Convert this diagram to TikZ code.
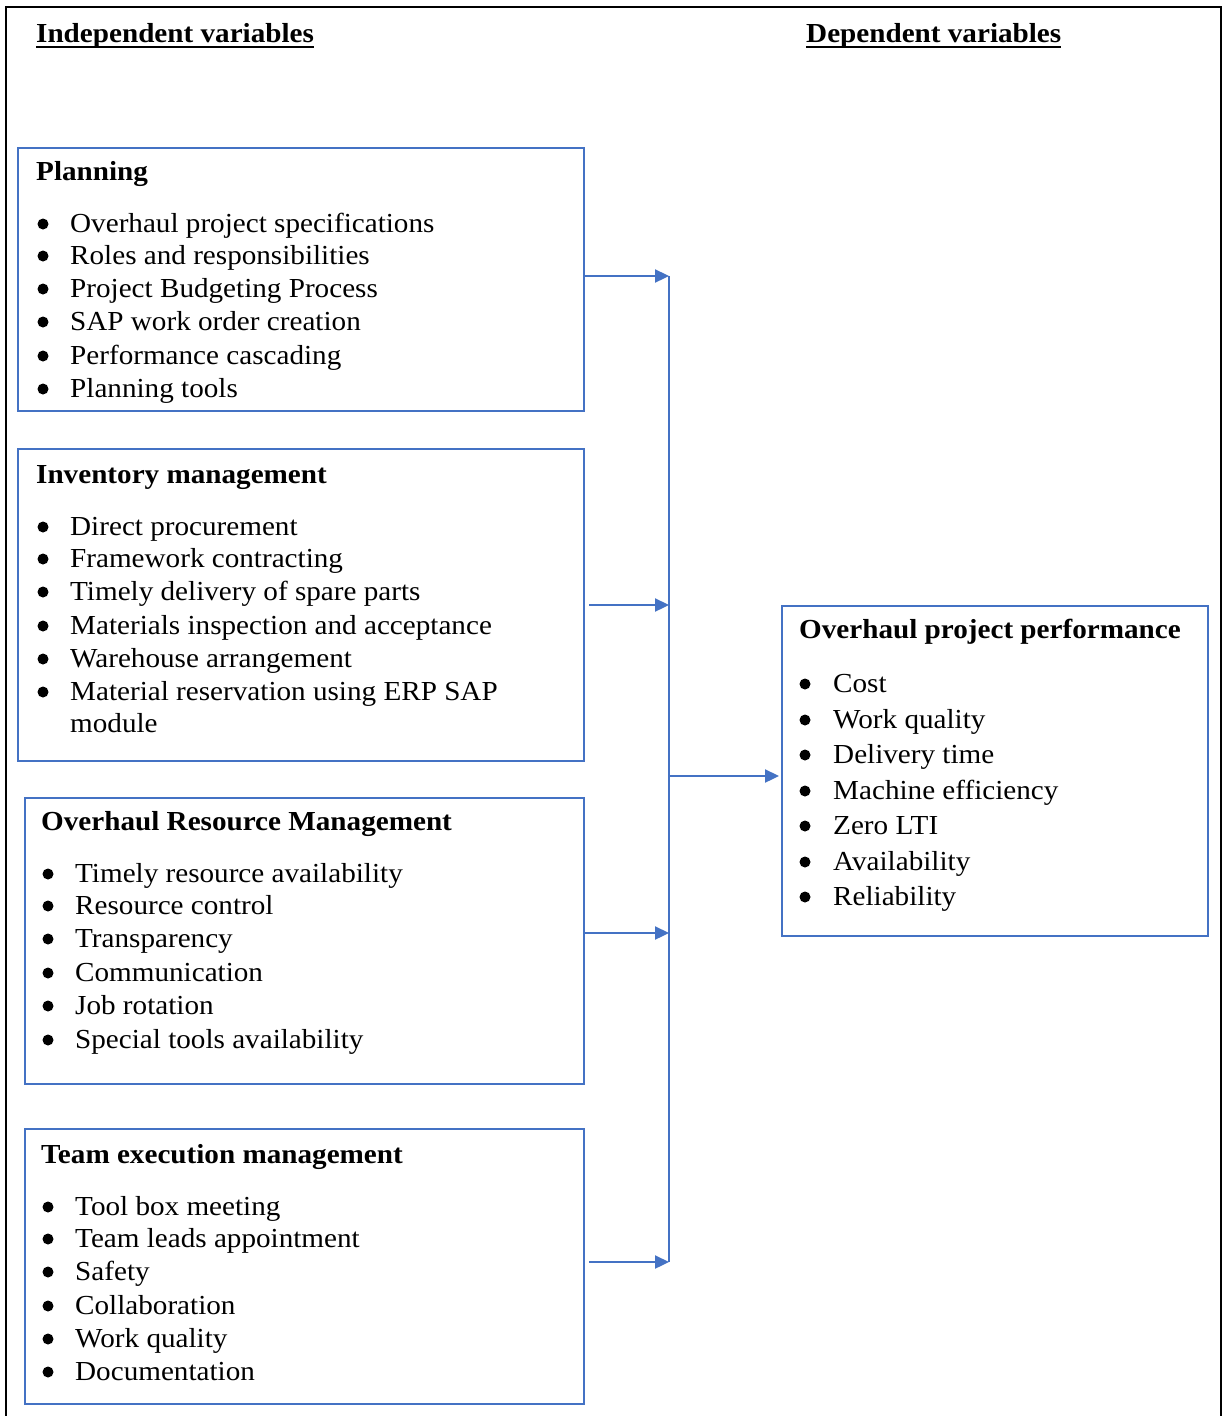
\documentclass[tikz,border=0pt]{standalone}
\usepackage{fontspec}
\setmainfont{Liberation Serif}[FakeStretch=1.06]
\usetikzlibrary{arrows.meta,calc}
\definecolor{bblue}{RGB}{68,114,196}
\begin{document}
\begin{tikzpicture}[x=1pt,y=-1pt,
  boxst/.style={draw=bblue, line width=2.3pt, anchor=north west, inner sep=0pt},
  tx/.style={anchor=base west, inner sep=0pt, font=\fontsize{27.5}{33}\selectfont},
  hd/.style={anchor=base west, inner sep=0pt, font=\fontsize{27.5}{33}\selectfont\bfseries},
  bul/.style={circle, fill=black, inner sep=0pt, minimum size=11pt},
  busline/.style={draw=bblue, line width=2.3pt},
  arr/.style={draw=bblue, line width=2.3pt, -{Triangle[length=14pt,width=13pt]}},
  ul/.style={line width=1.8pt}]
\useasboundingbox (0,0) rectangle (1227,1416);
\fill[white] (0,0) rectangle (1227,1416);
% outer frame (bottom edge lies outside the picture)
\draw[line width=2.5pt] (6,1416) -- (6,7) -- (1221,7) -- (1221,1416);

% headings
\node[hd] (ih) at (36,42) {Independent variables};
\node[hd] (dh) at (806,42) {Dependent variables};
\draw[ul] ([yshift=-5pt]ih.base west) -- ([yshift=-5pt]ih.base east);
\draw[ul] ([yshift=-5pt]dh.base west) -- ([yshift=-5pt]dh.base east);

% boxes
\node[boxst, minimum width=566pt, minimum height=263pt] (plan) at (17,147) {};
\node[boxst, minimum width=566pt, minimum height=312pt] (inv) at (17,448) {};
\node[boxst, minimum width=559pt, minimum height=286pt] (orm) at (24,797) {};
\node[boxst, minimum width=559pt, minimum height=275pt] (team) at (24,1128) {};
\node[boxst, minimum width=426pt, minimum height=330pt] (perf) at (781,605) {};

% Planning
\node[hd] (pt) at (36,180) {Planning};
\foreach \yy/\txt [count=\i] in {232/Overhaul project specifications,264/Roles and responsibilities,297/Project Budgeting Process,330/SAP work order creation,364/Performance cascading,397/Planning tools}{
  \node[bul] (pb\i) at (43,\yy-8) {};
  \node[tx] (pi\i) at (70,\yy) {\txt};
}

% Inventory
\node[hd] (it) at (36,483) {Inventory management};
\foreach \yy/\txt [count=\i] in {535/Direct procurement,567/Framework contracting,600/Timely delivery of spare parts,634/Materials inspection and acceptance,667/Warehouse arrangement,700/Material reservation using ERP SAP}{
  \node[bul] (ib\i) at (43,\yy-8) {};
  \node[tx] (ii\i) at (70,\yy) {\txt};
}
\node[tx] (ii7) at (70,732) {module};

% Overhaul Resource Management
\node[hd] (ot) at (41,830) {Overhaul Resource Management};
\foreach \yy/\txt [count=\i] in {882/Timely resource availability,914/Resource control,947/Transparency,981/Communication,1014/Job rotation,1048/Special tools availability}{
  \node[bul] (ob\i) at (48,\yy-8) {};
  \node[tx] (oi\i) at (75,\yy) {\txt};
}

% Team execution management
\node[hd] (tt) at (41,1163) {Team execution management};
\foreach \yy/\txt [count=\i] in {1215/Tool box meeting,1247/Team leads appointment,1280/Safety,1314/Collaboration,1347/Work quality,1380/Documentation}{
  \node[bul] (tb\i) at (48,\yy-8) {};
  \node[tx] (ti\i) at (75,\yy) {\txt};
}

% Overhaul project performance
\node[hd] (rt) at (799,638) {Overhaul project performance};
\foreach \yy/\txt [count=\i] in {692/Cost,728/Work quality,763/Delivery time,799/Machine efficiency,834/Zero LTI,870/Availability,905/Reliability}{
  \node[bul] (rb\i) at (805,\yy-8) {};
  \node[tx] (ri\i) at (833,\yy) {\txt};
}

% connectors
\coordinate (bt) at (669,276);
\coordinate (c2) at (669,605);
\coordinate (bm) at (669,776);
\coordinate (c3) at (669,933);
\coordinate (bb) at (669,1262);
\draw[busline] (bt) -- (bb);
\draw[arr] (plan.east |- bt) -- (bt);
\draw[arr] ([xshift=4pt]inv.east |- c2) -- (c2);
\draw[arr] (orm.east |- c3) -- (c3);
\draw[arr] ([xshift=4pt]team.east |- bb) -- (bb);
\draw[arr] (bm) -- ([xshift=-2pt]perf.west |- bm);
\end{tikzpicture}
\end{document}
